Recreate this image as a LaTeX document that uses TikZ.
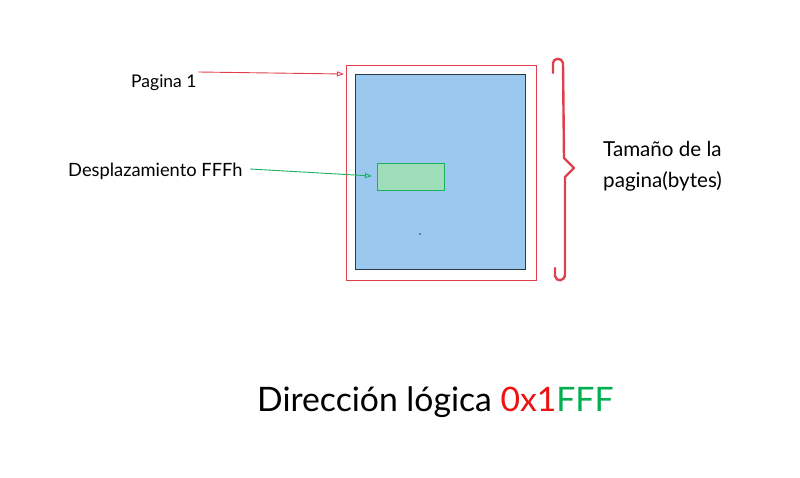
\documentclass[tikz,border=0pt]{standalone}
\usepackage{fontspec}
\setmainfont{Lato}
\usetikzlibrary{arrows.meta}
\definecolor{rboxc}{HTML}{E0404E}
\definecolor{bluef}{HTML}{9BC8EE}
\definecolor{blued}{HTML}{2E3A48}
\definecolor{greenf}{HTML}{9FDDB8}
\definecolor{greenl}{HTML}{1DB060}
\definecolor{redt}{HTML}{EE1111}
\definecolor{greent}{HTML}{00B050}
\tikzset{
  lbl/.style={inner sep=0pt, font=\fontsize{17.5}{20}\selectfont, text=black},
  arr/.style={-{Stealth[length=7pt,width=5pt,inset=0pt, open]}, line width=0.9pt},
}
\begin{document}
\begin{tikzpicture}[x=1pt,y=-1pt]
\useasboundingbox[fill=white] (0,0) rectangle (800,478);
% frames
\node[draw=rboxc, line width=1.1pt, minimum width=190pt, minimum height=215pt, inner sep=0pt, anchor=north west] (outer) at (346,65) {};
\node[draw=blued, fill=bluef, line width=1.1pt, minimum width=170pt, minimum height=195pt, inner sep=0pt, anchor=north west] (page) at (355,74) {};
\node[draw=greenl, fill=greenf, line width=1.1pt, minimum width=67pt, minimum height=27pt, inner sep=0pt, anchor=north west] (off) at (377,163) {};
\fill[blued] (420,234) circle (0.8pt);
% labels
\node[lbl, anchor=base west] (p1) at (131,88) {Pagina 1};
\node[lbl, anchor=base west, font=\fontsize{18.3}{20}\selectfont] (desp) at (68,177) {Desplazamiento FFFh};
\coordinate (p1s) at (198,72);
\coordinate (p1e) at (344,74);
\coordinate (ds) at (250,169);
\coordinate (de) at (372,176);
\draw[arr, draw=rboxc] (p1s) -- (p1e);
\draw[arr, draw=greenl] (ds) -- (de);
% brace
\draw[rboxc, line width=2.4pt, line cap=round, line join=round]
  (553,73) -- (553,63) .. controls (553,58) and (562,57) .. (563,63)
  -- (564,158) -- (574,168) -- (565,177) -- (565,274)
  .. controls (565,282) and (556,282) .. (555,276) -- (555,268);
\node[lbl, anchor=base west, align=left, font=\fontsize{20.6}{31}\selectfont] (size) at (603,188) {Tamaño de la\\pagina(bytes)};
% bottom
\node[inner sep=0pt, anchor=base west, font=\fontsize{33.7}{38}\selectfont] (dir) at (257,411) {Dirección lógica \textcolor{redt}{0x1}\textcolor{greent}{FFF}};
\end{tikzpicture}
\end{document}
